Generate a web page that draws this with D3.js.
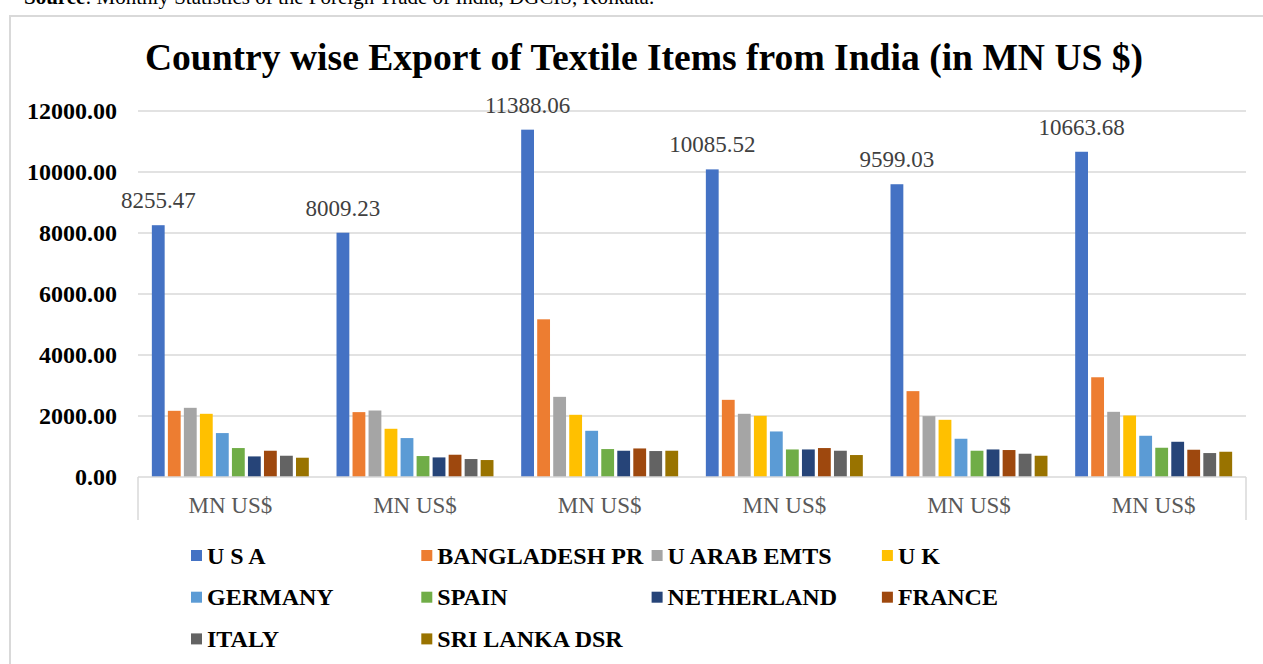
<!DOCTYPE html>
<head>
	<script src="https://d3js.org/d3.v7.min.js"></script>
	<style>
		body { margin: 0; background: #fff; }
		text { font-family: "Liberation Serif", "Times New Roman", serif; }
		.ytick { font-size: 24px; font-weight: bold; fill: #000; }
		.cat { font-size: 23px; fill: #595959; }
		.lbl { font-size: 23px; fill: #404040; }
		.legend { font-size: 24px; font-weight: bold; fill: #000; }
		.title { font-size: 37.6px; font-weight: bold; fill: #000; }
	</style>
</head>

<body>
	<script>
		// country wise textile exports, 6 periods all labelled "MN US$"
		var categories = ["MN US$", "MN US$", "MN US$", "MN US$", "MN US$", "MN US$"];
		var countries = ["U S A", "BANGLADESH PR", "U ARAB EMTS", "U K", "GERMANY", "SPAIN", "NETHERLAND", "FRANCE", "ITALY", "SRI LANKA DSR"];
		var colors = ["#4472C4", "#ED7D31", "#A5A5A5", "#FFC000", "#5B9BD5", "#70AD47", "#264478", "#9E480E", "#636363", "#997300"];

		var usa = [8255.47, 8009.23, 11388.06, 10085.52, 9599.03, 10663.68];
		var bangladesh = [2170, 2127, 5170, 2530, 2815, 3270];
		var uae = [2268, 2180, 2628, 2072, 1996, 2137];
		var uk = [2072, 1581, 2039, 2006, 1875, 2016];
		var germany = [1440, 1276, 1515, 1493, 1254, 1352];
		var spain = [949, 687, 916, 903, 861, 959];
		var netherland = [675, 642, 861, 903, 903, 1155];
		var france = [861, 730, 936, 949, 884, 894];
		var italy = [697, 589, 851, 861, 763, 785];
		var srilanka = [632, 556, 861, 720, 697, 828];
		var series = [usa, bangladesh, uae, uk, germany, spain, netherland, france, italy, srilanka];

		var yTicks = [0, 2000, 4000, 6000, 8000, 10000, 12000];

		var width = 1263;
		var height = 664;
		var plot = { left: 138, right: 1246, top: 111, bottom: 477 };

		var svg = d3.select("body")
			.append("svg")
			.attr("width", width)
			.attr("height", height);

		// source line, mostly cut off at the top
		var src = svg.append("text")
			.attr("x", 24)
			.attr("y", 4)
			.style("font-size", "21px");
		src.append("tspan").style("font-weight", "bold").text("Source");
		src.append("tspan").text(": Monthly Statistics of the Foreign Trade of India, DGCIS, Kolkata.");

		// chart frame
		svg.append("rect")
			.attr("x", 10)
			.attr("y", 16)
			.attr("width", 1270)
			.attr("height", 700)
			.attr("fill", "none")
			.attr("stroke", "#d9d9d9")
			.attr("stroke-width", 2);

		svg.append("text")
			.attr("class", "title")
			.attr("x", 644)
			.attr("y", 70)
			.attr("text-anchor", "middle")
			.text("Country wise Export of Textile Items from India (in MN US $)");

		// scales
		var x0 = d3.scaleBand()
			.domain(d3.range(categories.length))
			.range([plot.left, plot.right])
			.paddingInner(0.15)
			.paddingOuter(0.075);
		var x1 = d3.scaleBand()
			.domain(d3.range(countries.length))
			.range([0, x0.bandwidth()])
			.paddingInner(0.2);
		var y = d3.scaleLinear()
			.domain([0, 12000])
			.range([plot.bottom, plot.top]);

		// gridlines
		svg.append("g")
			.selectAll("line")
			.data(yTicks.slice(1))
			.enter()
			.append("line")
			.attr("x1", plot.left)
			.attr("x2", plot.right)
			.attr("y1", function(d) { return y(d) })
			.attr("y2", function(d) { return y(d) })
			.attr("stroke", "#d9d9d9")
			.attr("stroke-width", 1.5);

		// y axis labels
		var yAxis = d3.axisLeft(y)
			.tickValues(yTicks)
			.tickSize(0)
			.tickPadding(21)
			.tickFormat(d3.format(".2f"));
		var ya = svg.append("g")
			.attr("transform", "translate(" + [plot.left, 0] + ")")
			.call(yAxis)
			.attr("font-family", null)
			.attr("font-size", null);
		ya.select(".domain").remove();
		ya.selectAll("text")
			.attr("class", "ytick")
			.attr("fill", null);

		// bars
		var groups = svg.append("g")
			.selectAll("g")
			.data(categories)
			.enter()
			.append("g")
			.attr("transform", function(d, i) { return "translate(" + [x0(i), 0] + ")" });

		groups.selectAll("rect")
			.data(function(d, i) { return series.map(function(s, k) { return { k: k, v: s[i] } }) })
			.enter()
			.append("rect")
			.attr("x", function(d) { return x1(d.k) })
			.attr("y", function(d) { return y(d.v) })
			.attr("width", x1.bandwidth())
			.attr("height", function(d) { return y(0) - y(d.v) })
			.attr("fill", function(d) { return colors[d.k] });

		// data labels on the USA bars
		svg.append("g")
			.selectAll("text")
			.data(usa)
			.enter()
			.append("text")
			.attr("class", "lbl")
			.attr("x", function(d, i) { return x0(i) + x1(0) + x1.bandwidth() / 2 })
			.attr("y", function(d) { return y(d) - 17 })
			.attr("text-anchor", "middle")
			.text(function(d) { return d3.format(".2f")(d) });

		// category axis
		var xa = svg.append("g").attr("stroke", "#d9d9d9").attr("stroke-width", 1.5).attr("fill", "none");
		xa.append("line")
			.attr("x1", plot.left).attr("x2", plot.right)
			.attr("y1", y(0)).attr("y2", y(0));
		xa.selectAll("line.edge")
			.data([plot.left, plot.right])
			.enter()
			.append("line")
			.attr("class", "edge")
			.attr("x1", function(d) { return d })
			.attr("x2", function(d) { return d })
			.attr("y1", y(0))
			.attr("y2", 520);

		svg.append("g")
			.selectAll("text")
			.data(categories)
			.enter()
			.append("text")
			.attr("class", "cat")
			.attr("x", function(d, i) { return x0(i) + x0.bandwidth() / 2 })
			.attr("y", 513)
			.attr("text-anchor", "middle")
			.text(function(d) { return d });

		// legend, 4 columns
		var legend = svg.append("g")
			.selectAll("g")
			.data(countries)
			.enter()
			.append("g")
			.attr("transform", function(d, i) { return "translate(" + [191 + (i % 4) * 230.3, 550 + Math.floor(i / 4) * 41.7] + ")" });
		legend.append("rect")
			.attr("width", 11)
			.attr("height", 11)
			.attr("fill", function(d, i) { return colors[i] });
		legend.append("text")
			.attr("class", "legend")
			.attr("x", 16)
			.attr("y", 13.5)
			.text(function(d) { return d });
	</script>
</body>
</html>
